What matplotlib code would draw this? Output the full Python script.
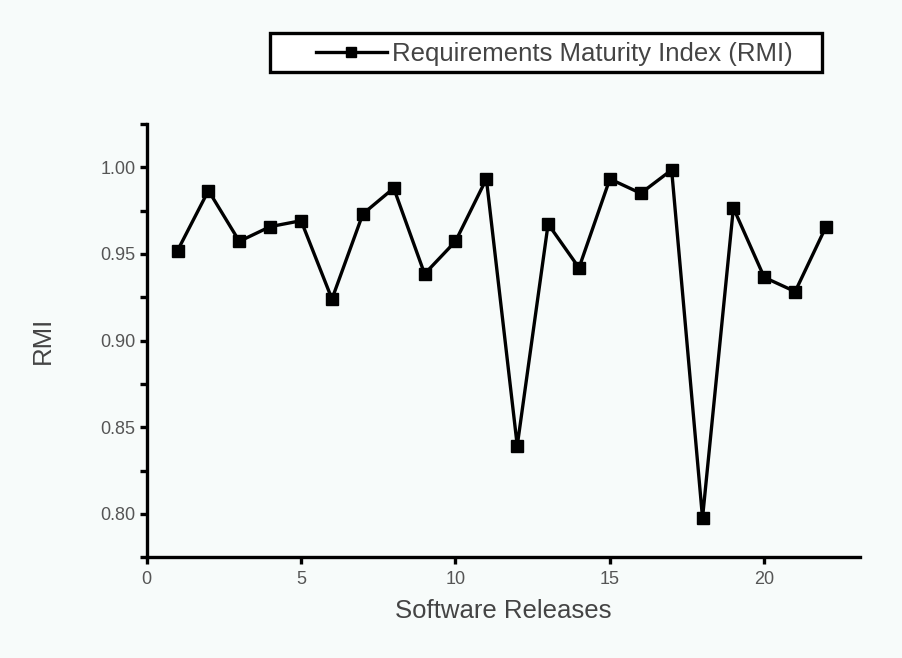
import matplotlib
matplotlib.use("Agg")
import matplotlib.pyplot as plt
from matplotlib.ticker import MultipleLocator, FormatStrFormatter
from matplotlib.patches import Rectangle

releases = list(range(1, 23))
rmi = [0.952, 0.9866, 0.9573, 0.9658, 0.9692, 0.924, 0.9731, 0.988, 0.9385, 0.9573,
       0.9933, 0.8394, 0.9673, 0.942, 0.9933, 0.985, 0.9985, 0.7977, 0.9766, 0.9365,
       0.9283, 0.9658]
series_label = "Requirements Maturity Index (RMI)"

plt.rcParams['font.family'] = ['Liberation Sans', 'DejaVu Sans']
bg = '#f7fbfa'
W, H = 903, 658
fig = plt.figure(figsize=(W / 100, H / 100), dpi=100, facecolor=bg)
ax = fig.add_axes([146.7 / W, 1 - 557.3 / H, (860 - 146.7) / W, (557.3 - 124) / H], facecolor=bg)

line, = ax.plot(releases, rmi, color='black', lw=2.4, marker='s', ms=8,
                markeredgecolor='black', markerfacecolor='black', label=series_label)

ax.set_xlim(0, 23.1)
ax.set_ylim(0.775, 1.025)
ax.xaxis.set_major_locator(MultipleLocator(5))
ax.yaxis.set_major_locator(MultipleLocator(0.05))
ax.yaxis.set_minor_locator(MultipleLocator(0.025))
ax.yaxis.set_major_formatter(FormatStrFormatter('%.2f'))

for s in ['top', 'right']:
    ax.spines[s].set_visible(False)
for s in ['left', 'bottom']:
    ax.spines[s].set_linewidth(2.4)

ax.tick_params(axis='both', which='major', direction='out', length=5, width=2.4,
               labelsize=13, labelcolor='#555555', color='black', pad=3)
ax.tick_params(axis='x', which='major', pad=5)
ax.tick_params(axis='y', which='minor', direction='out', length=5, width=2.4)
ax.set_xlabel('Software Releases', fontsize=18.5, color='#444444', labelpad=8)
ax.set_ylabel('RMI', fontsize=18.5, color='#444444', labelpad=33)

fig.add_artist(Rectangle((270 / W, 1 - 72 / H), 552 / W, 39 / H, transform=fig.transFigure,
                         facecolor='white', edgecolor='black', lw=2.4, zorder=1))
leg = fig.legend(handles=[line], labels=[series_label], loc='center left',
                 bbox_to_anchor=(316 / W, 1 - 54 / H), fontsize=18.5,
                 frameon=False, handlelength=2.75, handletextpad=0.2, borderpad=0,
                 borderaxespad=0, markerscale=0.85)
leg.set_zorder(2)
for t in leg.get_texts():
    t.set_color('#444444')

fig.savefig('out.png', dpi=100, facecolor=bg)
